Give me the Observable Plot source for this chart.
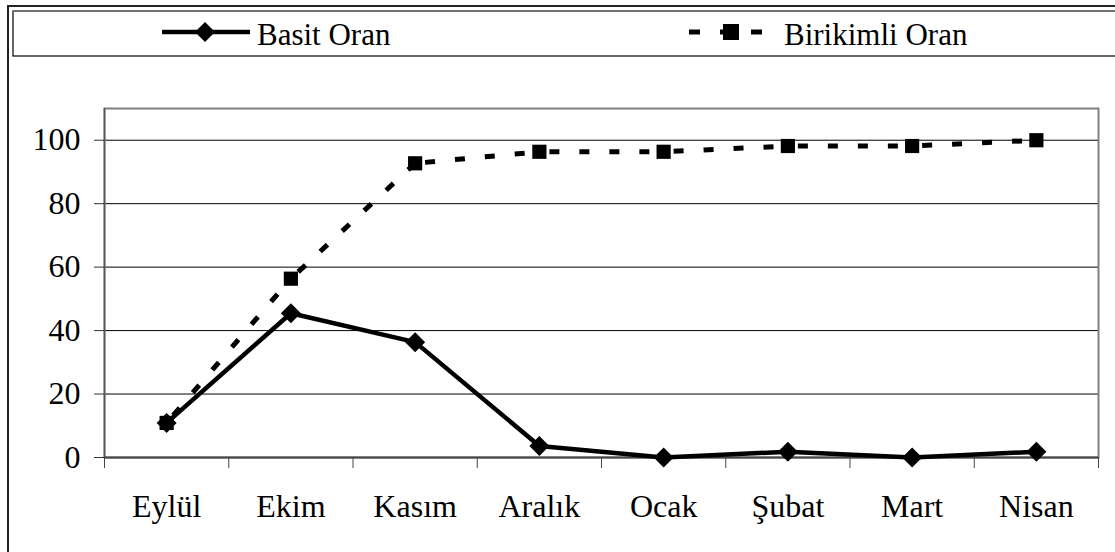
<!DOCTYPE html>
<html>
<head>
<meta charset="utf-8">
<script src="https://cdn.jsdelivr.net/npm/d3@7"></script>
<script src="https://cdn.jsdelivr.net/npm/@observablehq/plot@0.6"></script>
<style>
  html, body { margin: 0; padding: 0; background: white; }
  #wrap { position: relative; width: 1115px; height: 552px; overflow: hidden; background: white; }
  #legend { position: absolute; left: 0; top: 0; }
  #chart { position: absolute; left: 0; top: 60px; }
  #outer { position: absolute; left: 7px; top: 5px; width: 1200px; height: 700px; border: 2px solid #222; box-sizing: border-box; pointer-events: none; }
  svg text { font-family: "Liberation Serif", Tinos, "Nimbus Roman", "Times New Roman", Times, "DejaVu Serif", serif !important; }
</style>
</head>
<body>
<div id="wrap">
  <div id="chart"></div>
  <svg id="legend" width="1115" height="60"></svg>
  <div id="outer"></div>
</div>
<script>
const months = ["Eylül", "Ekim", "Kasım", "Aralık", "Ocak", "Şubat", "Mart", "Nisan"];
const basitOran = [10.9, 45.45, 36.36, 3.64, 0, 1.82, 0, 1.82];
const birikimliOran = [10.9, 56.36, 92.73, 96.36, 96.36, 98.18, 98.18, 100];
const yTicks = [0, 20, 40, 60, 80, 100];
const seriesNames = ["Basit Oran", "Birikimli Oran"];

const FONT = '"Liberation Serif", Tinos, "Nimbus Roman", "Times New Roman", Times, "DejaVu Serif", serif';

const rows = months.map((m, i) => ({ x: i + 0.5, month: m, basit: basitOran[i], birikimli: birikimliOran[i] }));
const pairs = d3.pairs(rows);

const chart = Plot.plot({
  width: 1115,
  height: 492,
  marginTop: 48,
  marginRight: 17,
  marginBottom: 95,
  marginLeft: 104,
  style: { fontFamily: FONT, fontSize: "32px", color: "black", background: "transparent" },
  x: { type: "linear", domain: [0, months.length] },
  y: { domain: [0, 110] },
  marks: [
    Plot.ruleY(yTicks.filter(d => d > 0), { stroke: "black", strokeWidth: 1 }),
    Plot.frame({ stroke: "#808080", strokeWidth: 2 }),
    Plot.ruleX([0], { stroke: "#555", strokeWidth: 1.5 }),
    Plot.ruleY([0], { stroke: "#444", strokeWidth: 2 }),
    Plot.axisY({ ticks: yTicks, tickSize: 10, tickPadding: 14, tickFormat: d => String(d), label: null, fontSize: 32, stroke: "#333" }),
    Plot.axisX({ ticks: d3.range(months.length + 1), tickSize: 11, tickFormat: () => "", label: null, stroke: "#444" }),
    Plot.axisX({ ticks: months.map((_, i) => i + 0.5), tickSize: 0, tickPadding: 37, tickFormat: d => months[Math.floor(d)], label: null, fontSize: 32 }),
    Plot.link(pairs, {
      x1: d => d[0].x, y1: d => d[0].birikimli,
      x2: d => d[1].x, y2: d => d[1].birikimli,
      stroke: "black", strokeWidth: 5, strokeDasharray: "10,20", strokeDashoffset: 20, strokeLinecap: "butt"
    }),
    Plot.line(rows, { x: "x", y: "basit", stroke: "black", strokeWidth: 4.5, strokeLinejoin: "round" }),
    Plot.dot(rows, { x: "x", y: "birikimli", symbol: "square", r: 8, fill: "black", stroke: null }),
    Plot.dot(rows, { x: "x", y: "basit", symbol: "diamond2", r: 9, fill: "black", stroke: null })
  ]
});
document.getElementById("chart").appendChild(chart);

// Legend
const lg = d3.select("#legend");
lg.append("rect").attr("x", 13).attr("y", 11).attr("width", 1200).attr("height", 45)
  .attr("fill", "white").attr("stroke", "black").attr("stroke-width", 1.2);
lg.append("line").attr("x1", 13).attr("x2", 1115).attr("y1", 11).attr("y2", 11)
  .attr("stroke", "#777").attr("stroke-width", 1.5);

// Basit Oran item
lg.append("line").attr("x1", 162).attr("x2", 250).attr("y1", 32).attr("y2", 32)
  .attr("stroke", "black").attr("stroke-width", 4.5);
lg.append("path").attr("transform", "translate(205,32)")
  .attr("d", d3.symbol(d3.symbolDiamond2, 255)()).attr("fill", "black");
lg.append("text").attr("x", 257).attr("y", 45).attr("font-size", 31)
  .attr("fill", "black").text(seriesNames[0]);

// Birikimli Oran item
lg.append("line").attr("x1", 689).attr("x2", 763).attr("y1", 32).attr("y2", 32)
  .attr("stroke", "black").attr("stroke-width", 5).attr("stroke-dasharray", "11,20");
lg.append("path").attr("transform", "translate(731,32)")
  .attr("d", d3.symbol(d3.symbolSquare, 256)()).attr("fill", "black");
lg.append("text").attr("x", 784).attr("y", 45).attr("font-size", 31)
  .attr("fill", "black").text(seriesNames[1]);
</script>
</body>
</html>
